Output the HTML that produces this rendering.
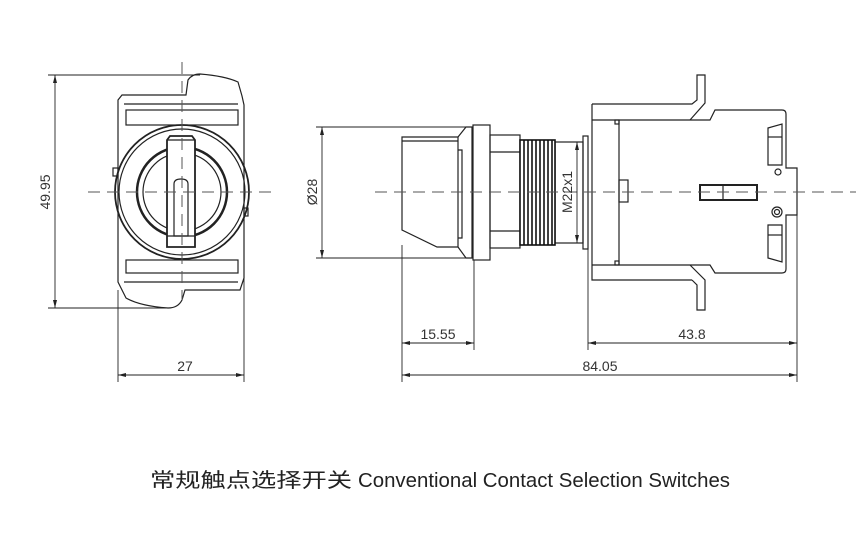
<!DOCTYPE html>
<html><head><meta charset="utf-8"><style>
html,body{margin:0;padding:0;background:#fff;}
svg{display:block}
</style></head><body>
<svg width="856" height="546" viewBox="0 0 856 546" xmlns="http://www.w3.org/2000/svg" font-family="Liberation Sans, sans-serif">
<g fill="none" stroke="#222" stroke-width="1.2">
<!-- LEFT VIEW -->
<path d="M118 100 L122 95 L186 95 L188 80 Q192 74 200 74 Q225 76 238 82 L242 96 L244 105 L244 278 L240 290 L185 290 L182 300 Q178 308 168 308 Q140 306 126 298 L122 290 L118 282 Z"/>
<line x1="124" y1="104" x2="238" y2="104"/>
<line x1="124" y1="282" x2="238" y2="282"/>
<rect x="126" y="110" width="112" height="15"/>
<rect x="126" y="260" width="112" height="13"/>
<rect x="113" y="168" width="5" height="8"/>
<rect x="244" y="208" width="4" height="8"/>
<circle cx="182" cy="192" r="67" stroke-width="1.8"/>
<circle cx="182" cy="192" r="63"/>
<circle cx="182" cy="192" r="45" stroke-width="2.5"/>
<circle cx="182" cy="192" r="39"/>
<path d="M167 140 L170 136 L192 136 L195 140 L195 247 L167 247 Z" fill="#fff" stroke-width="1.8"/>
<path d="M174 184 Q174 179 181 179 Q188 179 188 184 L188 236 L174 236 Z"/>
<line x1="167" y1="236" x2="195" y2="236"/>
<line x1="167" y1="140" x2="195" y2="140"/>
<!-- RIGHT VIEW -->
<path d="M402 137 L458 137 L458 247 L437 247 L402 230 Z"/>
<line x1="402" y1="141" x2="458" y2="141"/>
<path d="M458 150 L462 150 L462 238 L458 238"/>
<path d="M458 137 L466 127 L472 127 L472 258 L466 258 L458 247"/>
<rect x="473" y="125" width="17" height="135"/>
<rect x="490" y="135" width="30" height="113"/>
<line x1="490" y1="152" x2="520" y2="152"/><line x1="490" y1="231" x2="520" y2="231"/>
<rect x="555" y="142" width="28" height="101"/>
<rect x="583" y="136" width="5" height="113"/>
<!-- body -->
<path d="M592 104 L692 104 L697 100 L697 75 L705 75 L705 103 L690 120"/>
<path d="M592 104 L592 280 L692 280"/>
<path d="M592 120 L690 120 L710 120 L715 110 L782 110 Q786 110 786 114 L786 168 L797 168 L797 215 L786 215 L786 269 Q786 273 782 273 L715 273 L710 265 L592 265"/>
<path d="M690 265 L705 280 L705 310 L697 310 L697 285 L692 280"/>
<line x1="619" y1="120" x2="619" y2="265"/>
<rect x="619" y="180" width="9" height="22"/>
<rect x="615" y="120" width="4" height="4"/><rect x="615" y="261" width="4" height="4"/>
<path d="M768 128 L782 124 L782 165 L768 165 Z"/><line x1="768" y1="137" x2="782" y2="137"/>
<path d="M768 225 L782 225 L782 262 L768 258 Z"/><line x1="768" y1="235" x2="782" y2="235"/>
<circle cx="778" cy="172" r="3"/>
<circle cx="777" cy="212" r="5"/><circle cx="777" cy="212" r="2.5"/>
<rect x="700" y="185" width="57" height="15" stroke-width="2"/>
<line x1="723" y1="185" x2="723" y2="200"/>
</g>
<!-- threads -->
<g stroke="#111" stroke-width="1.6">
<rect x="520" y="140" width="35" height="105" fill="#fff"/>
<line x1="524" y1="140" x2="524" y2="245"/><line x1="528" y1="140" x2="528" y2="245"/><line x1="532" y1="140" x2="532" y2="245"/><line x1="536" y1="140" x2="536" y2="245"/><line x1="540" y1="140" x2="540" y2="245"/><line x1="544" y1="140" x2="544" y2="245"/><line x1="548" y1="140" x2="548" y2="245"/><line x1="552" y1="140" x2="552" y2="245"/>
</g>
<!-- center lines -->
<g stroke="#555" stroke-width="1" stroke-dasharray="12 7" fill="none">
<line x1="88" y1="192" x2="275" y2="192"/>
<line x1="182" y1="62" x2="182" y2="300"/>
<line x1="375" y1="192" x2="856" y2="192"/>
</g>
<!-- dimensions -->
<g stroke="#222" stroke-width="0.9" fill="none">
<line x1="48" y1="75" x2="200" y2="75"/><line x1="48" y1="308" x2="170" y2="308"/>
<line x1="55" y1="75" x2="55" y2="308"/>
<line x1="118" y1="290" x2="118" y2="382"/><line x1="244" y1="278" x2="244" y2="382"/>
<line x1="118" y1="375" x2="244" y2="375"/>
<line x1="316" y1="127" x2="466" y2="127"/><line x1="316" y1="258" x2="466" y2="258"/>
<line x1="322" y1="127" x2="322" y2="258"/>
<line x1="577" y1="142" x2="577" y2="243"/>
<line x1="402" y1="245" x2="402" y2="382"/><line x1="474" y1="260" x2="474" y2="350"/>
<line x1="588" y1="249" x2="588" y2="350"/><line x1="797" y1="215" x2="797" y2="382"/>
<line x1="402" y1="343" x2="474" y2="343"/><line x1="588" y1="343" x2="797" y2="343"/>
<line x1="402" y1="375" x2="797" y2="375"/>
</g>
<g fill="#222">
<path d="M55 75 l-2 8 h4z"/><path d="M55 308 l-2 -8 h4z"/>
<path d="M118 375 l8 -2 v4z"/><path d="M244 375 l-8 -2 v4z"/>
<path d="M322 127 l-2 8 h4z"/><path d="M322 258 l-2 -8 h4z"/>
<path d="M577 142 l-2 8 h4z"/><path d="M577 243 l-2 -8 h4z"/>
<path d="M402 343 l8 -2 v4z"/><path d="M474 343 l-8 -2 v4z"/>
<path d="M588 343 l8 -2 v4z"/><path d="M797 343 l-8 -2 v4z"/>
<path d="M402 375 l8 -2 v4z"/><path d="M797 375 l-8 -2 v4z"/>
</g>
<g fill="#333" font-size="14">
<text x="185" y="371" text-anchor="middle">27</text>
<text transform="translate(50 192) rotate(-90)" text-anchor="middle">49.95</text>
<text transform="translate(317 192) rotate(-90)" text-anchor="middle">Ø28</text>
<text transform="translate(572 192) rotate(-90)" text-anchor="middle">M22x1</text>
<text x="438" y="339" text-anchor="middle">15.55</text>
<text x="692" y="339" text-anchor="middle">43.8</text>
<text x="600" y="371" text-anchor="middle">84.05</text>
</g>
<text x="150" y="487" font-size="20" fill="#222" font-family="Liberation Sans, Noto Sans CJK SC, sans-serif" textLength="202" lengthAdjust="spacingAndGlyphs">常规触点选择开关</text>
<text x="358" y="487" font-size="20" fill="#222" textLength="372" lengthAdjust="spacingAndGlyphs">Conventional Contact Selection Switches</text>
</svg>
</body></html>
